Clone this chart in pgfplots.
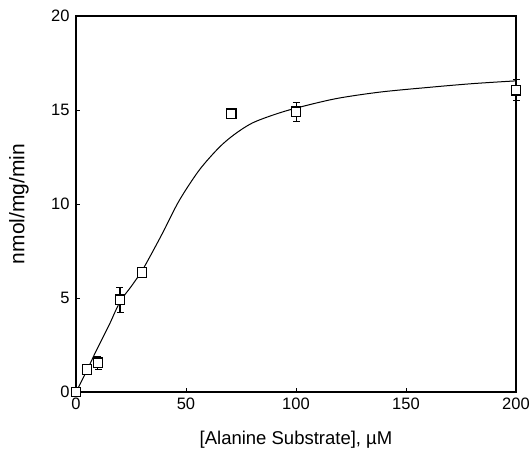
\documentclass[border=0pt]{standalone}
\usepackage{pgfplots}
\pgfplotsset{compat=1.18}
\usepackage{fontspec}
\setmainfont{Liberation Sans}
\begin{document}
\begin{tikzpicture}
\useasboundingbox (-76pt,-65pt) rectangle (456pt,392pt);
\begin{axis}[
  scale only axis,
  width=440pt, height=376pt,
  xmin=0, xmax=200, ymin=0, ymax=20,
  xtick={0,50,100,150,200},
  ytick={0,5,10,15,20},
  tick pos=left,
  tick align=inside,
  major tick length=4pt,
  axis line style={line width=1.1pt},
  tick style={line width=0.9pt, black},
  /pgf/number format/assume math mode=true,
  tick label style={font=\fontsize{16.5}{18}\selectfont},
  xticklabel style={yshift=-2pt},
  yticklabel style={xshift=-3pt},
  label style={font=\fontsize{18.5}{21}\selectfont},
  xlabel={[Alanine Substrate], \textmu M},
  ylabel={nmol/mg/min},
  xlabel style={at={(axis description cs:0.5,0)}, anchor=center, yshift=-48pt},
  ylabel style={at={(axis description cs:0,0.5)}, anchor=center, yshift=57pt, font=\fontsize{21}{24}\selectfont},
  clip=false,
]
\addplot[black, line width=1pt, smooth, no marks] coordinates {
(0,0) (5,1.15) (9,2.15) (15,3.55) (20,4.8) (25,5.6) (30,6.45) (35,7.5) (40,8.6) (47,10.2) (56,11.8) (65,13.0) (72,13.7) (80,14.3) (90,14.75) (100,15.1) (118,15.6) (138,15.95) (160,16.2) (180,16.4) (200,16.55)
};
\addplot[black, line width=1pt, only marks, mark=square*, mark size=4.8pt,
  mark options={fill=white, line width=1.2pt},
  error bars/.cd, y dir=both, y explicit,
  error bar style={line width=1pt},
  error mark options={line width=1pt, mark size=3.5pt, rotate=90}]
  coordinates {
(10,1.55) +- (0,0.35)
(20,4.9) +- (0,0.68)
(100,14.9) +- (0,0.5)
(200,16.05) +- (0,0.55)
};
\addplot[black, line width=1pt, only marks, mark=square*, mark size=4.8pt,
  mark options={fill=white, line width=1.2pt}]
  coordinates {
(0,0) (5,1.2) (30,6.35) (70.5,14.8)
};
\end{axis}
\end{tikzpicture}
\end{document}
